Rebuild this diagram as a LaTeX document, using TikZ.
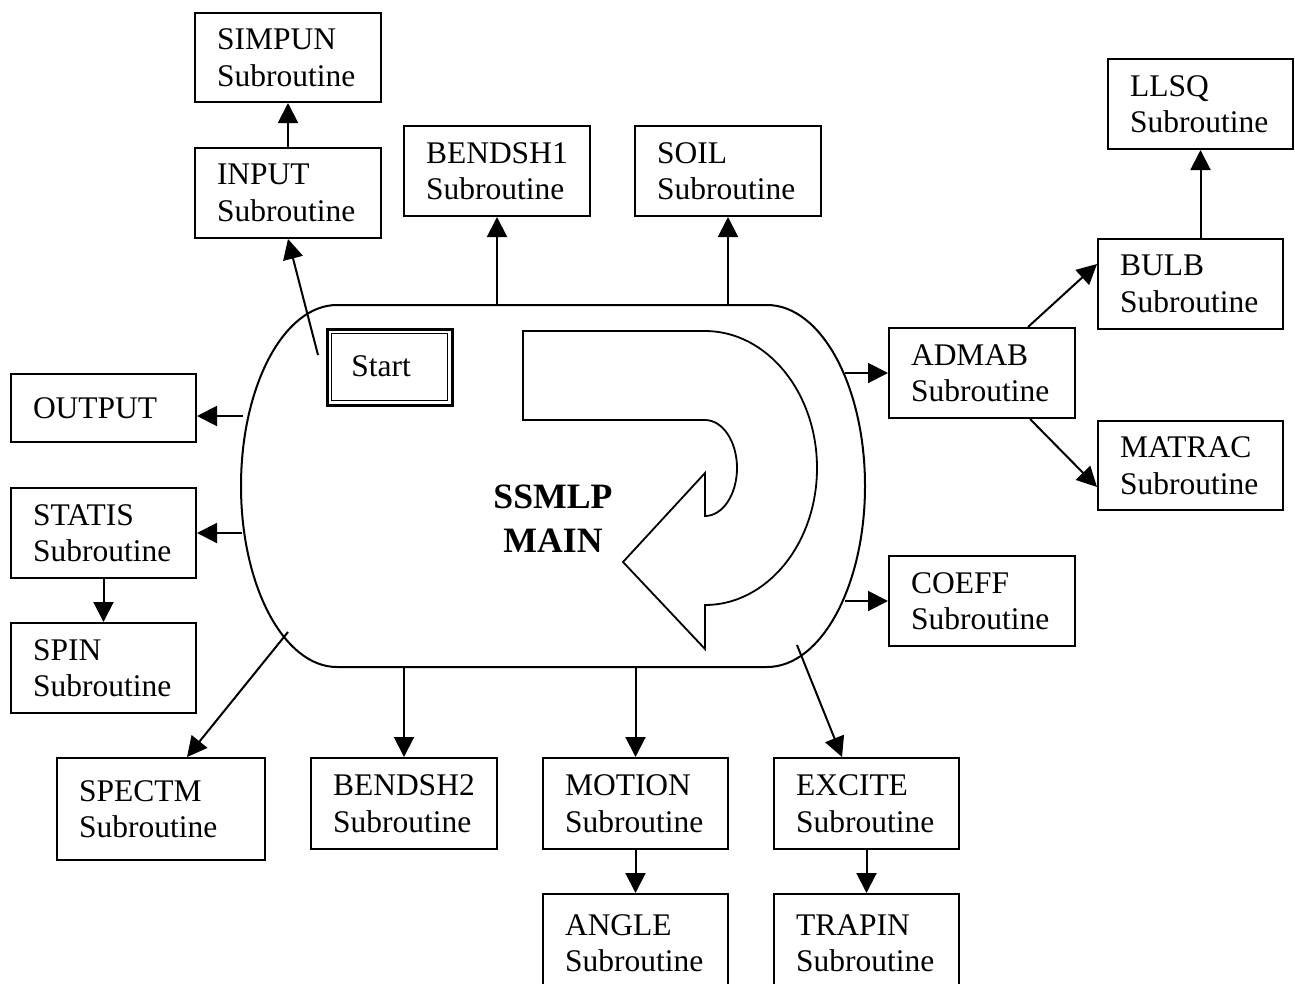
\documentclass[tikz,border=0pt]{standalone}
\usepackage{fontspec}
\setmainfont{Liberation Serif}
\usetikzlibrary{arrows.meta,calc}
\newcommand{\subfont}{\fontsize{31.5pt}{36.5pt}\selectfont}
\newcommand{\bigbold}{\fontsize{35.7pt}{44pt}\selectfont\bfseries}
\begin{document}
\begin{tikzpicture}[x=1pt,y=-1pt,
  sub/.style={draw, line width=2pt, anchor=north west, inner xsep=22pt, inner ysep=0pt, align=left, font=\subfont},
  arr/.style={line width=2pt, -{Triangle[length=20pt,width=20pt]}},
  plain/.style={line width=2pt}]
\useasboundingbox (0,0) rectangle (1295,983);

% main body
\draw[plain] (337,305) -- (767,305)
  arc[start angle=-90, end angle=90, x radius=98, y radius=181]
  -- (337,667)
  arc[start angle=90, end angle=270, x radius=96, y radius=181] -- cycle;

% U-turn arrow
\draw[line width=1.8pt, line join=miter] (523,331) -- (705,331)
  arc[start angle=-90, end angle=90, x radius=112, y radius=137]
  -- (705,649) -- (623,562) -- (705,473) -- (705,516)
  arc[start angle=90, end angle=-90, x radius=32, y radius=48]
  -- (523,420) -- cycle;

\node[font=\bigbold, align=center] (main) at (553,519) {SSMLP\\MAIN};

% Start box
\node[draw, line width=3pt, minimum width=125pt, minimum height=76pt, inner sep=0pt] (start) at (389.5,367) {};
\draw[line width=1.8pt] ($(start.north west)+(6,6)$) rectangle ($(start.south east)+(-6,-6)$);
\node[font=\subfont, inner sep=0pt] (starttxt) at (381,366) {Start};

% boxes
\node[sub, text width=142pt, minimum height=89pt] (simpun) at (194,12) {SIMPUN\\Subroutine};
\node[sub, text width=142pt, minimum height=90pt] (input) at (194,147) {INPUT\\Subroutine};
\node[sub, text width=142pt, minimum height=90pt] (bendsh1) at (403,125) {BENDSH1\\Subroutine};
\node[sub, text width=142pt, minimum height=90pt] (soil) at (634,125) {SOIL\\Subroutine};
\node[sub, text width=141pt, minimum height=90pt] (llsq) at (1107,58) {LLSQ\\Subroutine};
\node[sub, text width=141pt, minimum height=90pt] (bulb) at (1097,238) {BULB\\Subroutine};
\node[sub, text width=142pt, minimum height=90pt] (admab) at (888,327) {ADMAB\\Subroutine};
\node[sub, text width=141pt, minimum height=89pt] (matrac) at (1097,420) {MATRAC\\Subroutine};
\node[sub, text width=142pt, minimum height=90pt] (coeff) at (888,555) {COEFF\\Subroutine};
\node[sub, text width=141pt, minimum height=68pt] (output) at (10,373) {OUTPUT};
\node[sub, text width=141pt, minimum height=90pt] (statis) at (10,487) {STATIS\\Subroutine};
\node[sub, text width=141pt, minimum height=90pt] (spin) at (10,622) {SPIN\\Subroutine};
\node[sub, text width=164pt, minimum height=102pt] (spectm) at (56,757) {SPECTM\\Subroutine};
\node[sub, text width=142pt, minimum height=91pt] (bendsh2) at (310,757) {BENDSH2\\Subroutine};
\node[sub, text width=141pt, minimum height=91pt] (motion) at (542,757) {MOTION\\Subroutine};
\node[sub, text width=141pt, minimum height=98pt] (angle) at (542,893) {ANGLE\\Subroutine};
\node[sub, text width=141pt, minimum height=91pt] (excite) at (773,757) {EXCITE\\Subroutine};
\node[sub, text width=141pt, minimum height=98pt] (trapin) at (773,893) {TRAPIN\\Subroutine};

% connection points on main body
\coordinate (m-in) at (318,355);
\coordinate (m-b1) at (bendsh1.south |- 0,305);
\coordinate (m-soil) at (soil.south |- 0,305);
\coordinate (m-admab) at (845,0 |- admab.west);
\coordinate (m-coeff) at (845,0 |- coeff.west);
\coordinate (m-out) at (243,416);
\coordinate (m-stat) at (242,0 |- statis.east);
\coordinate (m-spec) at (288,632);
\coordinate (m-b2) at (bendsh2.north |- 0,667);
\coordinate (m-mot) at (motion.north |- 0,667);
\coordinate (m-exc) at (797,645);

% connectors
\draw[arr] (m-in) -- (input.south);
\draw[arr] (input.north) -- (simpun.south);
\draw[arr] (m-b1) -- (bendsh1.south);
\draw[arr] (m-soil) -- (soil.south);
\draw[arr] (m-admab) -- (admab.west);
\draw[arr] (m-coeff) -- (coeff.west);
\draw[arr] ($(admab.north west)+(140,0)$) -- ($(bulb.north west)+(0,26)$);
\draw[arr] ($(admab.south west)+(142,0)$) -- ($(matrac.north west)+(0,67)$);
\draw[arr] (bulb.north -| llsq.south) -- (llsq.south);
\draw[arr] (m-out) -- (m-out -| output.east);
\draw[arr] (m-stat) -- (statis.east);
\draw[arr] (statis.south) -- (spin.north);
\draw[arr] (m-spec) -- ($(spectm.north west)+(131,0)$);
\draw[arr] (m-b2) -- (bendsh2.north);
\draw[arr] (m-mot) -- (motion.north);
\draw[arr] (m-exc) -- ($(excite.north west)+(69,0)$);
\draw[arr] (motion.south) -- (angle.north);
\draw[arr] (excite.south) -- (trapin.north);
\end{tikzpicture}
\end{document}
